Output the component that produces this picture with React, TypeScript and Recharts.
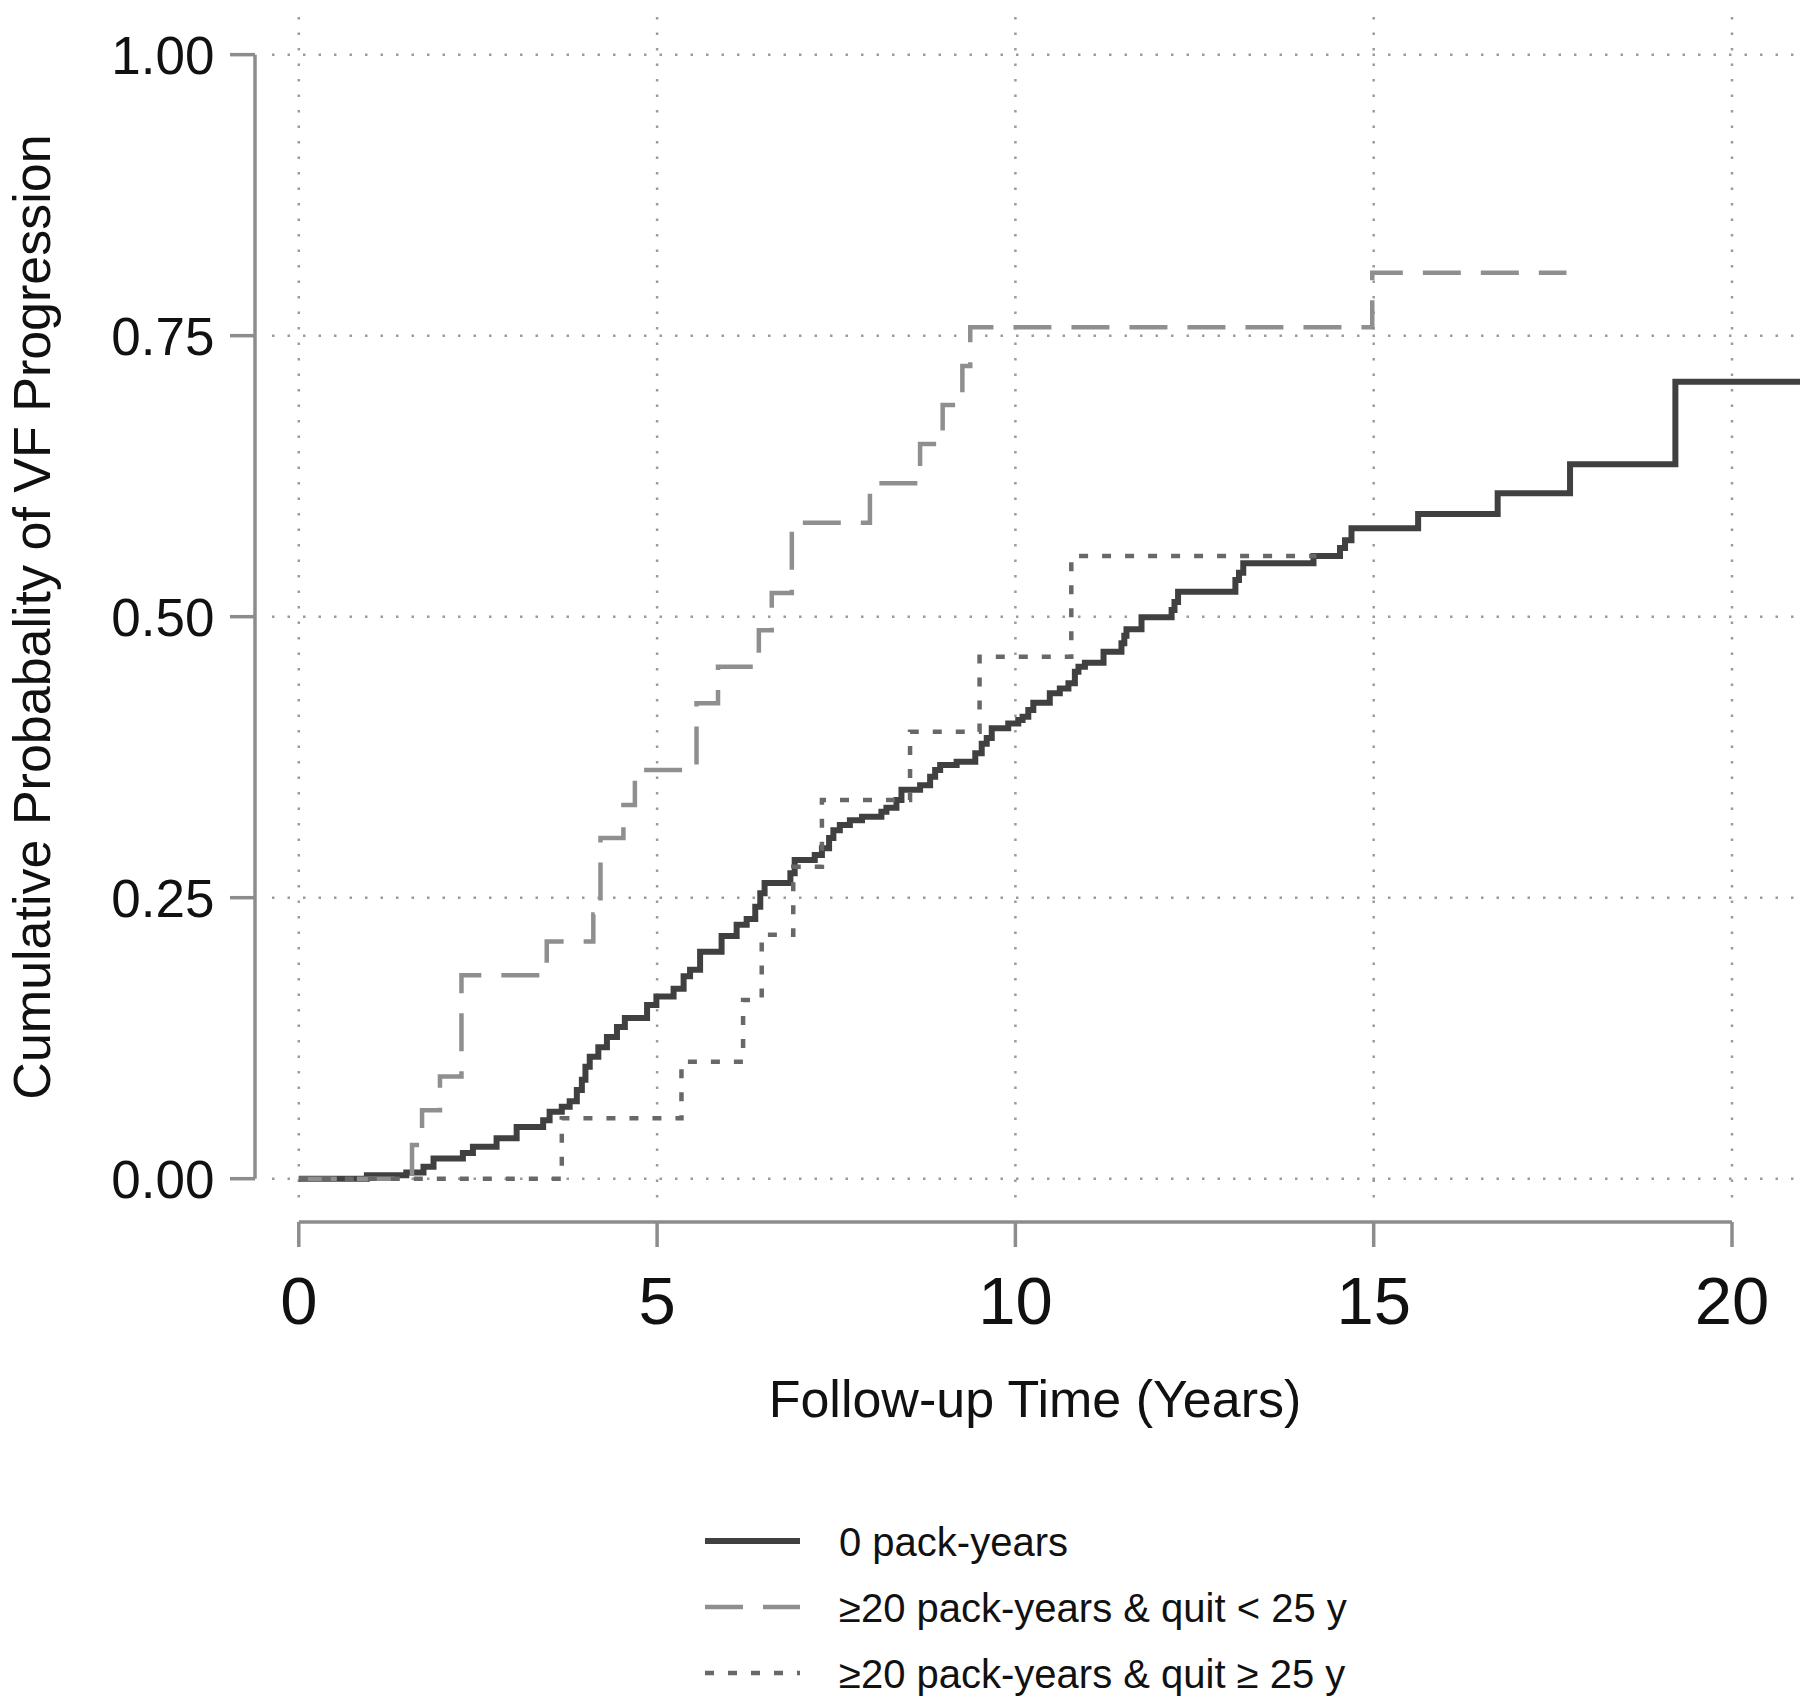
import React from 'react';
import { LineChart, Line, XAxis, YAxis, CartesianGrid, ReferenceLine } from 'recharts';

const FONT = '"Liberation Sans", Arial, Helvetica, sans-serif';

// chart frame (px)
const WIDTH = 1800;
const HEIGHT = 1704;
const PLOT = { left: 272, top: 17, right: 1800, bottom: 1205 };
const AXIS_GAP = 17;
const TICK_LEN = 25;
const AXIS_COLOR = '#8c8c8c';

const X_DOMAIN: [number, number] = [-0.374, 20.949];
const Y_DOMAIN: [number, number] = [-0.0234, 1.0335];

const xTicks = [0, 5, 10, 15, 20];
const yTicks = [0, 0.25, 0.5, 0.75, 1];

// 0 pack-years
const neverTimes = [
  0, 0.95, 1.5, 1.74, 1.88, 2.29, 2.43, 2.76, 3.04, 3.41, 3.5, 3.67, 3.78, 3.88, 3.95, 4.0, 4.06, 4.18, 4.3, 4.44,
  4.55, 4.86, 4.99, 5.23, 5.37, 5.46, 5.6, 5.9, 6.11, 6.25, 6.37, 6.44, 6.5, 6.86, 6.92, 7.2, 7.3, 7.4, 7.46, 7.55,
  7.69, 7.86, 8.13, 8.2, 8.34, 8.41, 8.67, 8.81, 8.88, 8.95, 9.18, 9.44, 9.53, 9.6, 9.67, 9.9, 10.04, 10.1, 10.18,
  10.25, 10.48, 10.62, 10.74, 10.83, 10.88, 10.97, 11.23, 11.48, 11.52, 11.55, 11.76, 12.18, 12.22, 12.27, 13.07,
  13.12, 13.18, 14.16, 14.53, 14.6, 14.69, 15.62, 16.73, 17.74, 19.21, 21.0,
];
const neverProbs = [
  0, 0.003, 0.0055, 0.0107, 0.018, 0.0228, 0.0285, 0.036, 0.046, 0.052, 0.0596, 0.064, 0.069, 0.079, 0.088, 0.0996,
  0.1085, 0.117, 0.126, 0.135, 0.143, 0.1545, 0.162, 0.169, 0.18, 0.186, 0.202, 0.216, 0.226, 0.231, 0.242, 0.254,
  0.263, 0.2717, 0.2835, 0.288, 0.294, 0.303, 0.31, 0.3147, 0.319, 0.322, 0.3265, 0.33, 0.337, 0.346, 0.35, 0.3577,
  0.3636, 0.368, 0.371, 0.3785, 0.387, 0.392, 0.4007, 0.405, 0.408, 0.411, 0.417, 0.4235, 0.4318, 0.436, 0.4407,
  0.451, 0.4555, 0.459, 0.4689, 0.4763, 0.483, 0.4888, 0.4995, 0.506, 0.513, 0.5222, 0.5327, 0.539, 0.5475, 0.554,
  0.561, 0.568, 0.5786, 0.5914, 0.6098, 0.6355, 0.709, 0.709,
];

// >=20 pack-years & quit < 25 y
const recentTimes = [0, 1.58, 1.72, 1.97, 2.27, 3.46, 4.11, 4.21, 4.53, 4.69, 5.55, 5.85, 6.42, 6.6, 6.88, 7.97, 8.67, 8.985, 9.26, 9.37, 14.98, 17.69];
const recentProbs = [0, 0.03, 0.061, 0.091, 0.181, 0.211, 0.235, 0.303, 0.3325, 0.3636, 0.423, 0.4555, 0.488, 0.521, 0.5836, 0.6187, 0.6536, 0.6883, 0.723, 0.7574, 0.806, 0.806];

// >=20 pack-years & quit >= 25 y
const longTimes = [0, 3.67, 5.34, 6.2, 6.46, 6.9, 7.3, 8.53, 9.5, 10.78, 14.2];
const longProbs = [0, 0.0537, 0.104, 0.159, 0.217, 0.2776, 0.337, 0.3977, 0.4644, 0.554, 0.554];

const toRows = (times: number[], probs: number[]) => times.map((t, i) => ({ t, p: probs[i] }));

const series = [
  { key: 'never', name: '0 pack-years', color: '#404040', width: 6, dash: undefined, data: toRows(neverTimes, neverProbs) },
  { key: 'recent', name: '\u226520 pack-years & quit < 25 y', color: '#8f8f8f', width: 4.5, dash: '38 20', data: toRows(recentTimes, recentProbs) },
  { key: 'long', name: '\u226520 pack-years & quit \u2265 25 y', color: '#686868', width: 4.5, dash: '9 14', data: toRows(longTimes, longProbs) },
];

const pxPerX = (PLOT.right - PLOT.left) / (X_DOMAIN[1] - X_DOMAIN[0]);
const pxPerY = (PLOT.bottom - PLOT.top) / (Y_DOMAIN[1] - Y_DOMAIN[0]);
const yAxisLineX = X_DOMAIN[0] - AXIS_GAP / pxPerX;
const xAxisLineY = Y_DOMAIN[0] - AXIS_GAP / pxPerY;

function XTick({ x, y, payload }: any) {
  return (
    <g>
      <line x1={x} x2={x} y1={y + AXIS_GAP} y2={y + AXIS_GAP + TICK_LEN} stroke={AXIS_COLOR} strokeWidth={3.5} />
      <text x={x} y={y + 119} textAnchor="middle" fontSize={67} fontFamily={FONT} fill="#111">
        {payload.value}
      </text>
    </g>
  );
}

function YTick({ x, y, payload }: any) {
  return (
    <g>
      <line x1={x - AXIS_GAP} x2={x - AXIS_GAP - TICK_LEN} y1={y} y2={y} stroke={AXIS_COLOR} strokeWidth={3.5} />
      <text x={x - 57.5} y={y + 19} textAnchor="end" fontSize={53} fontFamily={FONT} fill="#111">
        {Number(payload.value).toFixed(2)}
      </text>
    </g>
  );
}

const legendRows = [1541, 1607, 1673];

export default function App() {
  return (
    <div style={{ position: 'absolute', left: 0, top: 0, width: WIDTH, height: HEIGHT, background: '#fff', overflow: 'hidden' }}>
      <LineChart
        width={WIDTH}
        height={HEIGHT}
        margin={{ top: PLOT.top, left: PLOT.left - 1, right: WIDTH - PLOT.right, bottom: HEIGHT - PLOT.bottom - 1 }}
      >
        <CartesianGrid stroke="#9b9b9b" strokeWidth={2.5} strokeDasharray="2.5 13" syncWithTicks />
        <XAxis
          dataKey="t"
          type="number"
          domain={X_DOMAIN}
          ticks={xTicks}
          allowDataOverflow
          height={1}
          axisLine={false}
          tickLine={false}
          tickSize={0}
          tickMargin={0}
          tick={<XTick />}
          interval={0}
        />
        <YAxis
          type="number"
          domain={Y_DOMAIN}
          ticks={yTicks}
          allowDataOverflow
          width={1}
          axisLine={false}
          tickLine={false}
          tickSize={0}
          tickMargin={0}
          tick={<YTick />}
          interval={0}
        />
        <ReferenceLine
          segment={[{ x: 0, y: xAxisLineY }, { x: 20, y: xAxisLineY }]}
          ifOverflow="visible"
          stroke={AXIS_COLOR}
          strokeWidth={3.5}
        />
        <ReferenceLine
          segment={[{ x: yAxisLineX, y: 0 }, { x: yAxisLineX, y: 1 }]}
          ifOverflow="visible"
          stroke={AXIS_COLOR}
          strokeWidth={3.5}
        />
        {series.map((s) => (
          <Line
            key={s.key}
            data={s.data}
            dataKey="p"
            name={s.name}
            type="stepAfter"
            stroke={s.color}
            strokeWidth={s.width}
            strokeDasharray={s.dash}
            strokeLinecap="butt"
            strokeLinejoin="miter"
            dot={false}
            activeDot={false}
            isAnimationActive={false}
          />
        ))}
      </LineChart>

      <svg
        width={WIDTH}
        height={HEIGHT}
        style={{ position: 'absolute', left: 0, top: 0, pointerEvents: 'none' }}
      >
        <text x={1035} y={1417} textAnchor="middle" fontSize={52} fontFamily={FONT} fill="#111">
          Follow-up Time (Years)
        </text>
        <text
          x={50}
          y={617}
          transform="rotate(-90 50 617)"
          textAnchor="middle"
          fontSize={52}
          fontFamily={FONT}
          fill="#111"
        >
          Cumulative Probabality of VF Progression
        </text>
        {series.map((s, i) => (
          <g key={s.key}>
            <line
              x1={705}
              x2={800}
              y1={legendRows[i]}
              y2={legendRows[i]}
              stroke={s.color}
              strokeWidth={s.width}
              strokeDasharray={s.dash}
            />
            <text x={839} y={legendRows[i] + 14.5} fontSize={40} fontFamily={FONT} fill="#111">
              {s.name}
            </text>
          </g>
        ))}
      </svg>
    </div>
  );
}
